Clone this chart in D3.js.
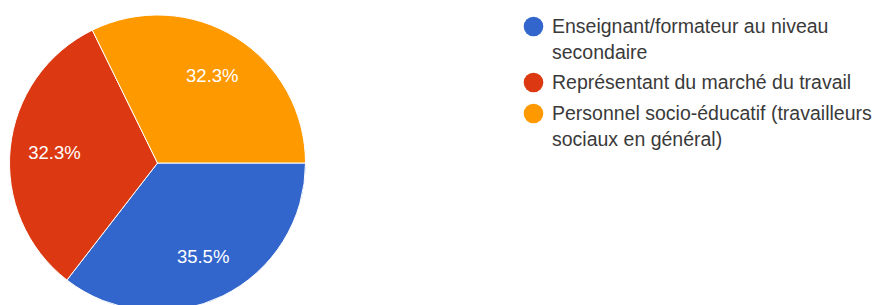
<!DOCTYPE html>
<html>
<head>
<meta charset="utf-8">
<script src="https://cdn.jsdelivr.net/npm/d3@7"></script>
<style>
  body { margin: 0; background: #fff; }
  text { font-family: "Liberation Sans", Arial, sans-serif; }
</style>
</head>
<body>
<script>
// données (31 réponses)
var categories = ["Enseignant/formateur au niveau secondaire",
                  "Représentant du marché du travail",
                  "Personnel socio-éducatif (travailleurs sociaux en général)"];
var legendLines = [["Enseignant/formateur au niveau", "secondaire"],
                   ["Représentant du marché du travail"],
                   ["Personnel socio-éducatif (travailleurs", "sociaux en général)"]];
var values = [11, 10, 10];
var colors = ["#3366cc", "#dc3912", "#ff9900"];

var width = 877, height = 305;
var cx = 157.5, cy = 163, radius = 148;

var svg = d3.select("body").append("svg").attr("width", width).attr("height", height);

var pie = d3.pie().sort(null).startAngle(Math.PI / 2).endAngle(Math.PI * 2.5);
var arcs = pie(values);
var total = d3.sum(values);

var arc = d3.arc().innerRadius(0).outerRadius(radius);
var labelArc = d3.arc().innerRadius(radius * 0.7).outerRadius(radius * 0.7);

var g = svg.append("g").attr("transform", "translate(" + cx + "," + cy + ")");

g.selectAll("path").data(arcs).enter()
  .append("path")
  .attr("d", arc)
  .attr("fill", function (d, i) { return colors[i]; })
  .attr("stroke", "#fff")
  .attr("stroke-width", 1);

g.selectAll("text.pct").data(arcs).enter()
  .append("text")
  .attr("class", "pct")
  .attr("transform", function (d) { return "translate(" + labelArc.centroid(d) + ")"; })
  .attr("text-anchor", "middle")
  .attr("dy", "0.36em")
  .attr("fill", "#fff")
  .attr("font-size", 18.5)
  .text(function (d) { return d3.format(".1f")(d.value / total * 100) + "%"; });

// légende
var legendY = [26.5, 82.5, 113.5];
var legend = svg.append("g");
categories.forEach(function (c, i) {
  var row = legend.append("g").attr("transform", "translate(533.5," + legendY[i] + ")");
  row.append("circle").attr("r", 9.8).attr("fill", colors[i]);
  var t = row.append("text")
    .attr("x", 18.5).attr("y", 6.5)
    .attr("font-size", 19.5)
    .attr("fill", "#3a3a3a");
  legendLines[i].forEach(function (line, j) {
    t.append("tspan").attr("x", 18.5).attr("dy", j === 0 ? 0 : 26).text(line);
  });
});
</script>
</body>
</html>
